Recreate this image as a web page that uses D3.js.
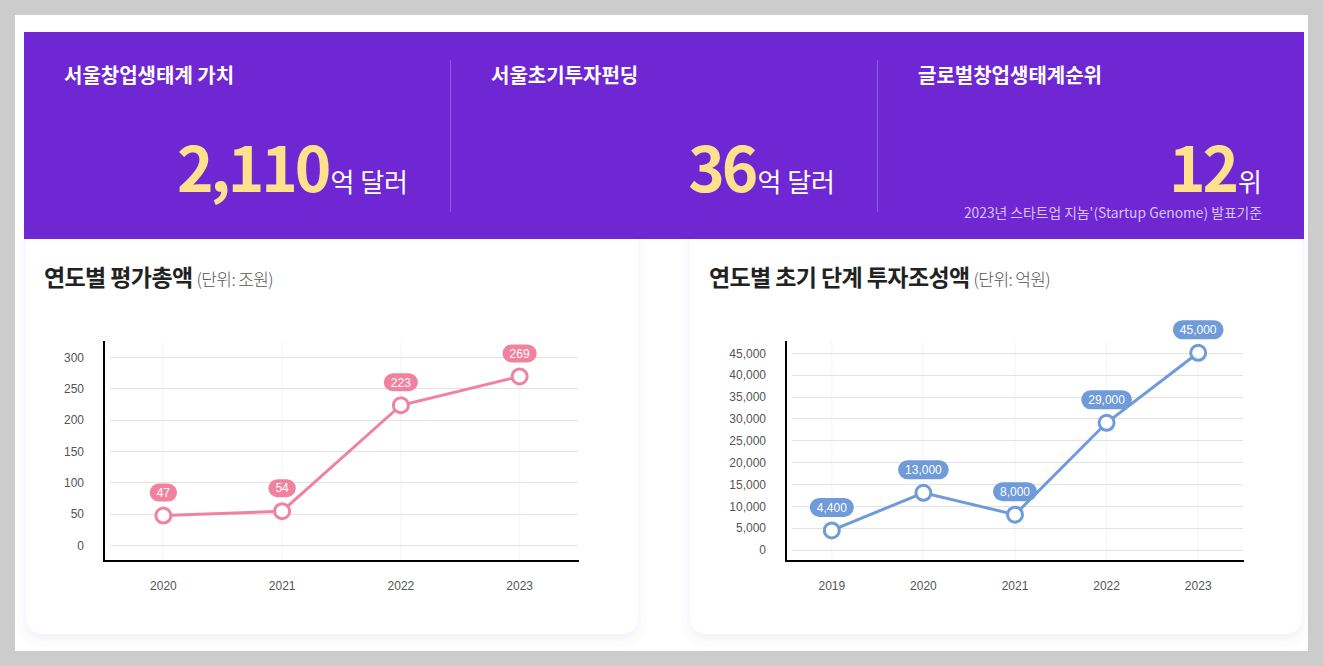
<!DOCTYPE html>
<html><head><meta charset="utf-8">
<script src="https://cdn.jsdelivr.net/npm/d3@7"></script>
<style>
html,body{margin:0;padding:0;background:#cccccc;}
svg{display:block;}
text{font-family:"Noto Sans CJK KR","Noto Sans",sans-serif;}
.num{font-family:"Liberation Sans",Arial,sans-serif;}
</style></head>
<body>
<svg id="c" width="1323" height="666"></svg>
<script>
// ---- data ----
const statTitles = ["서울창업생태계 가치", "서울초기투자펀딩", "글로벌창업생태계순위"];
const statValues = ["2,110", "36", "12"];
const statUnits = ["억 달러", "억 달러", "위"];
const statNote = "2023년 스타트업 지놈'(Startup Genome) 발표기준";

const chart1Title = "연도별 평가총액";
const chart1Unit = "(단위: 조원)";
const chart1Years = ["2020", "2021", "2022", "2023"];
const chart1Values = [47, 54, 223, 269];
const chart1Ticks = [0, 50, 100, 150, 200, 250, 300];

const chart2Title = "연도별 초기 단계 투자조성액";
const chart2Unit = "(단위: 억원)";
const chart2Years = ["2019", "2020", "2021", "2022", "2023"];
const chart2Values = [4400, 13000, 8000, 29000, 45000];
const chart2Ticks = [0, 5000, 10000, 15000, 20000, 25000, 30000, 35000, 40000, 45000];

const svg = d3.select("#c");
const defs = svg.append("defs");
const f = defs.append("filter").attr("id","sh").attr("x","-10%").attr("y","-10%").attr("width","120%").attr("height","130%");
f.append("feDropShadow").attr("dx",0).attr("dy",4).attr("stdDeviation",6).attr("flood-color","#8a6bd0").attr("flood-opacity",0.12);

// white panel
svg.append("rect").attr("x",15).attr("y",15).attr("width",1293).attr("height",636).attr("fill","#fff");

// cards
const cards = [{x:26,w:612},{x:690,w:612}];
cards.forEach(c=>{
  svg.append("rect").attr("x",c.x).attr("y",225).attr("width",c.w).attr("height",409)
    .attr("rx",16).attr("fill","#fff").attr("filter","url(#sh)");
});

// purple banner
svg.append("rect").attr("x",24).attr("y",32).attr("width",1280).attr("height",207).attr("fill","#6e27d3");
[450.5, 877.5].forEach(x=>{
  svg.append("line").attr("x1",x).attr("x2",x).attr("y1",60).attr("y2",212)
    .attr("stroke","#8e5ae0").attr("stroke-width",1);
});
const colLeft = [64, 491, 918];
const colRight = [408, 835, 1262];
statTitles.forEach((t,i)=>{
  svg.append("text").attr("x",colLeft[i]).attr("y",83).attr("fill","#fff")
    .attr("font-size",20).attr("font-weight",700).text(t);
  const g = svg.append("text").attr("x",colRight[i]).attr("y",192).attr("text-anchor","end");
  g.append("tspan").attr("fill","#ffe08c").attr("font-size",62).attr("font-weight",700)
    .attr("letter-spacing",-3).text(statValues[i]);
  g.append("tspan").attr("fill","#fff").attr("font-size",26).attr("dx",2).text(statUnits[i]);
});
svg.append("text").attr("x",1262).attr("y",218).attr("text-anchor","end").attr("fill","#d8c4f4")
  .attr("font-size",13.8).text(statNote);

function drawChart(opt){
  const g = svg.append("g");
  const t = g.append("text").attr("x",opt.titleX).attr("y",286);
  t.append("tspan").attr("font-size",23).attr("font-weight",700).attr("fill","#222").attr("letter-spacing",-0.6).text(opt.title);
  t.append("tspan").attr("font-size",17).attr("font-weight",300).attr("fill","#555").attr("dx",4).attr("letter-spacing",-0.6).text(opt.unit);

  const x = d3.scaleBand().domain(opt.years).range([opt.x0, opt.x1]);
  const y = d3.scaleLinear().domain(opt.yDomain).range([opt.yBottom, opt.yTop]);
  const cx = d => x(d) + x.bandwidth()/2;

  // vertical faint grid
  g.selectAll(".vg").data(opt.years).enter().append("line")
    .attr("x1",d=>cx(d)).attr("x2",d=>cx(d)).attr("y1",opt.yTop).attr("y2",opt.yBottom)
    .attr("stroke","#f4f4f4").attr("stroke-width",1);
  // horizontal grid
  g.selectAll(".hg").data(opt.ticks).enter().append("line")
    .attr("x1",opt.x0+6).attr("x2",opt.x1-1).attr("y1",d=>Math.round(y(d))+0.5).attr("y2",d=>Math.round(y(d))+0.5)
    .attr("stroke","#e3e3e3").attr("stroke-width",1);

  // y axis via d3
  const ya = d3.axisLeft(y).tickValues(opt.ticks).tickSize(0).tickPadding(20).tickFormat(d3.format(","));
  const yg = g.append("g").attr("transform",`translate(${opt.x0},0)`).call(ya);
  yg.select(".domain").remove();
  yg.selectAll("text").attr("class","num").attr("font-size",12).attr("fill","#555").attr("dy","0.35em");
  const xa = d3.axisBottom(x).tickSize(0).tickPadding(20);
  const xg = g.append("g").attr("transform",`translate(0,${opt.yBottom})`).call(xa);
  xg.select(".domain").remove();
  xg.selectAll("text").attr("class","num").attr("font-size",12).attr("fill","#555").attr("dy","0.76em");

  // axis lines
  g.append("line").attr("x1",opt.x0).attr("x2",opt.x0).attr("y1",opt.yTop).attr("y2",opt.yBottom+1)
    .attr("stroke","#000").attr("stroke-width",2);
  g.append("line").attr("x1",opt.x0-1).attr("x2",opt.x1).attr("y1",opt.yBottom).attr("y2",opt.yBottom)
    .attr("stroke","#000").attr("stroke-width",2);

  const pts = opt.years.map((d,i)=>({x:cx(d), y:y(opt.values[i]), v:opt.values[i]}));
  g.append("path").datum(pts).attr("fill","none").attr("stroke",opt.color).attr("stroke-width",3)
    .attr("d", d3.line().x(d=>d.x).y(d=>d.y));
  g.selectAll(".pt").data(pts).enter().append("circle")
    .attr("cx",d=>d.x).attr("cy",d=>d.y).attr("r",7.5)
    .attr("fill","#fff").attr("stroke",opt.color).attr("stroke-width",3);
  const fmt = d3.format(",");
  pts.forEach(p=>{
    const lbl = fmt(p.v);
    const tx = g.append("text").attr("class","num").attr("x",p.x).attr("y",p.y-23).attr("dy","0.36em")
      .attr("text-anchor","middle").attr("font-size",12).attr("fill","#fff").text(lbl);
    const w = tx.node().getComputedTextLength() + 14;
    g.insert("rect", () => tx.node()).attr("x",p.x-w/2).attr("y",p.y-23-opt.pillH/2)
      .attr("width",w).attr("height",opt.pillH).attr("rx",opt.pillH/2).attr("fill",opt.color);
  });
}

drawChart({title:chart1Title, unit:chart1Unit, titleX:44, years:chart1Years, values:chart1Values,
  ticks:chart1Ticks, yDomain:[-25.5,325.5], x0:104, x1:579, yTop:341, yBottom:561,
  color:"#f0829f", pillH:18});
drawChart({title:chart2Title, unit:chart2Unit, titleX:709, years:chart2Years, values:chart2Values,
  ticks:chart2Ticks, yDomain:[-2600,47700], x0:786, x1:1244, yTop:341, yBottom:561,
  color:"#6f9bd8", pillH:19});
</script>
</body></html>
